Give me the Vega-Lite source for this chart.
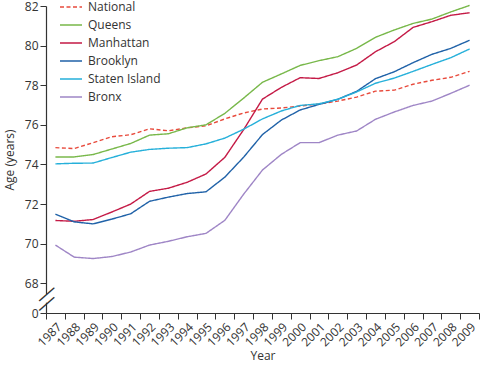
{
  "$schema": "https://vega.github.io/schema/vega-lite/v6.json",
  "width": 433,
  "height": 307,
  "autosize": {"type": "none"},
  "padding": {"left": 46, "top": 6, "right": 1, "bottom": 53},
  "background": "white",
  "config": {
    "view": {"stroke": null},
    "font": "Open Sans",
    "axis": {
      "labelFont": "Open Sans", "titleFont": "Open Sans",
      "labelFontSize": 12, "titleFontSize": 12, "titleFontWeight": "normal",
      "labelColor": "#333333", "titleColor": "#333333",
      "domainColor": "#333333", "tickColor": "#333333", "domainWidth": 1.2,
      "grid": false, "tickSize": 6, "labelOverlap": false
    },
    "legend": {
      "orient": "none", "legendX": 13, "legendY": -11, "padding": 0,
      "symbolType": "stroke", "symbolSize": 484, "symbolStrokeWidth": 1.6,
      "labelFont": "Open Sans", "labelFontSize": 12, "labelColor": "#333333",
      "labelOffset": 5, "rowPadding": -6
    }
  },
  "datasets": {
    "le": [
      {"Year": 1987, "National": 74.85, "Queens": 74.38, "Manhattan": 71.17, "Brooklyn": 71.49, "Staten Island": 74.03, "Bronx": 69.93},
      {"Year": 1988, "National": 74.8, "Queens": 74.38, "Manhattan": 71.13, "Brooklyn": 71.1, "Staten Island": 74.06, "Bronx": 69.32},
      {"Year": 1989, "National": 75.1, "Queens": 74.5, "Manhattan": 71.22, "Brooklyn": 71.0, "Staten Island": 74.07, "Bronx": 69.25},
      {"Year": 1990, "National": 75.4, "Queens": 74.78, "Manhattan": 71.6, "Brooklyn": 71.24, "Staten Island": 74.35, "Bronx": 69.35},
      {"Year": 1991, "National": 75.5, "Queens": 75.06, "Manhattan": 72.0, "Brooklyn": 71.51, "Staten Island": 74.62, "Bronx": 69.58},
      {"Year": 1992, "National": 75.8, "Queens": 75.48, "Manhattan": 72.64, "Brooklyn": 72.14, "Staten Island": 74.76, "Bronx": 69.93},
      {"Year": 1993, "National": 75.7, "Queens": 75.55, "Manhattan": 72.8, "Brooklyn": 72.35, "Staten Island": 74.82, "Bronx": 70.12},
      {"Year": 1994, "National": 75.85, "Queens": 75.85, "Manhattan": 73.1, "Brooklyn": 72.53, "Staten Island": 74.85, "Bronx": 70.35},
      {"Year": 1995, "National": 75.95, "Queens": 76.0, "Manhattan": 73.52, "Brooklyn": 72.62, "Staten Island": 75.04, "Bronx": 70.52},
      {"Year": 1996, "National": 76.3, "Queens": 76.58, "Manhattan": 74.36, "Brooklyn": 73.36, "Staten Island": 75.33, "Bronx": 71.18},
      {"Year": 1997, "National": 76.6, "Queens": 77.35, "Manhattan": 75.76, "Brooklyn": 74.37, "Staten Island": 75.78, "Bronx": 72.5},
      {"Year": 1998, "National": 76.8, "Queens": 78.15, "Manhattan": 77.3, "Brooklyn": 75.51, "Staten Island": 76.3, "Bronx": 73.72},
      {"Year": 1999, "National": 76.85, "Queens": 78.57, "Manhattan": 77.89, "Brooklyn": 76.24, "Staten Island": 76.7, "Bronx": 74.51},
      {"Year": 2000, "National": 76.95, "Queens": 79.0, "Manhattan": 78.38, "Brooklyn": 76.75, "Staten Island": 76.98, "Bronx": 75.1},
      {"Year": 2001, "National": 77.05, "Queens": 79.24, "Manhattan": 78.34, "Brooklyn": 77.03, "Staten Island": 77.06, "Bronx": 75.1},
      {"Year": 2002, "National": 77.2, "Queens": 79.44, "Manhattan": 78.63, "Brooklyn": 77.29, "Staten Island": 77.29, "Bronx": 75.48},
      {"Year": 2003, "National": 77.4, "Queens": 79.86, "Manhattan": 79.02, "Brooklyn": 77.69, "Staten Island": 77.66, "Bronx": 75.69},
      {"Year": 2004, "National": 77.7, "Queens": 80.42, "Manhattan": 79.69, "Brooklyn": 78.33, "Staten Island": 78.1, "Bronx": 76.28},
      {"Year": 2005, "National": 77.75, "Queens": 80.79, "Manhattan": 80.2, "Brooklyn": 78.68, "Staten Island": 78.36, "Bronx": 76.65},
      {"Year": 2006, "National": 78.05, "Queens": 81.12, "Manhattan": 80.92, "Brooklyn": 79.14, "Staten Island": 78.7, "Bronx": 76.98},
      {"Year": 2007, "National": 78.25, "Queens": 81.34, "Manhattan": 81.21, "Brooklyn": 79.56, "Staten Island": 79.05, "Bronx": 77.2},
      {"Year": 2008, "National": 78.4, "Queens": 81.7, "Manhattan": 81.53, "Brooklyn": 79.86, "Staten Island": 79.39, "Bronx": 77.59},
      {"Year": 2009, "National": 78.7, "Queens": 82.03, "Manhattan": 81.66, "Brooklyn": 80.27, "Staten Island": 79.83, "Bronx": 78.0}
    ],
    "gap": [
      {"Year": 1987, "Age": 67.02, "Age2": 67.46}
    ],
    "slash": [
      {"Year": 1987, "Age": 67.48, "mark": "—"},
      {"Year": 1987, "Age": 67.0, "mark": "—"}
    ]
  },
  "layer": [
    {
      "data": {"name": "le"},
      "transform": [
        {"fold": ["National", "Queens", "Manhattan", "Brooklyn", "Staten Island", "Bronx"], "as": ["Area", "Age"]}
      ],
      "mark": {"type": "line", "strokeWidth": 1.4},
      "encoding": {
        "x": {
          "field": "Year", "type": "ordinal",
          "scale": {"type": "band", "paddingInner": 0, "paddingOuter": 0},
          "axis": {"title": "Year", "labelAngle": -45, "tickBand": "extent", "labelPadding": 2, "titlePadding": 2}
        },
        "y": {
          "field": "Age", "type": "quantitative",
          "scale": {"domain": [66.5, 82], "zero": false, "nice": false},
          "axis": {
            "title": "Age (years)",
            "values": [66.5, 68, 70, 72, 74, 76, 78, 80, 82],
            "labelExpr": "datum.value < 67 ? '0' : datum.label",
            "labelPadding": 2, "titlePadding": 8
          }
        },
        "color": {
          "field": "Area", "type": "nominal",
          "scale": {
            "domain": ["National", "Queens", "Manhattan", "Brooklyn", "Staten Island", "Bronx"],
            "range": ["#e84a3c", "#78b84a", "#c41a46", "#2062a8", "#26b0da", "#9f86c6"]
          },
          "legend": {"title": null}
        },
        "strokeDash": {
          "field": "Area", "type": "nominal",
          "scale": {
            "domain": ["National", "Queens", "Manhattan", "Brooklyn", "Staten Island", "Bronx"],
            "range": [[4, 2.5], [1, 0], [1, 0], [1, 0], [1, 0], [1, 0]]
          },
          "legend": {"title": null}
        }
      }
    },
    {
      "data": {"name": "gap"},
      "mark": {"type": "rule", "color": "white", "strokeWidth": 4},
      "encoding": {
        "x": {"field": "Year", "type": "ordinal", "bandPosition": 0,
          "axis": {"title": "Year", "labelAngle": -45, "tickBand": "extent", "labelPadding": 2, "titlePadding": 2}},
        "y": {"field": "Age", "type": "quantitative",
          "axis": {
            "title": "Age (years)",
            "values": [66.5, 68, 70, 72, 74, 76, 78, 80, 82],
            "labelExpr": "datum.value < 67 ? '0' : datum.label",
            "labelPadding": 2, "titlePadding": 8
          }},
        "y2": {"field": "Age2"}
      }
    },
    {
      "data": {"name": "slash"},
      "mark": {"type": "text", "font": "Liberation Sans", "fontSize": 20, "angle": -41, "align": "center", "baseline": "middle", "color": "#333333"},
      "encoding": {
        "x": {"field": "Year", "type": "ordinal", "bandPosition": 0,
          "axis": {"title": "Year", "labelAngle": -45, "tickBand": "extent", "labelPadding": 2, "titlePadding": 2}},
        "y": {"field": "Age", "type": "quantitative",
          "axis": {
            "title": "Age (years)",
            "values": [66.5, 68, 70, 72, 74, 76, 78, 80, 82],
            "labelExpr": "datum.value < 67 ? '0' : datum.label",
            "labelPadding": 2, "titlePadding": 8
          }},
        "text": {"field": "mark"}
      }
    }
  ]
}
